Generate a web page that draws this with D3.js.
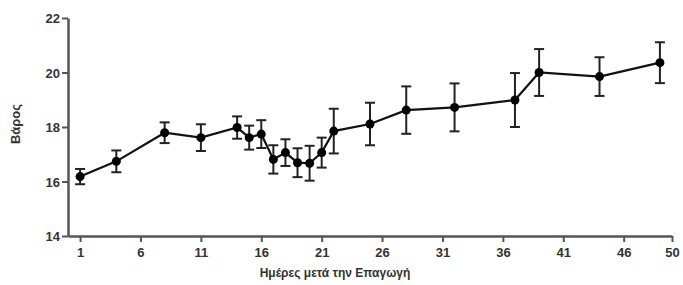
<!DOCTYPE html>
<html>
<head>
<meta charset="utf-8">
<script src="https://cdn.jsdelivr.net/npm/d3@7"></script>
<style>
  body { margin: 0; background: #fff; }
  svg text { font-family: "Liberation Sans", Arial, sans-serif; font-weight: bold; fill: #333; }
</style>
</head>
<body>
<svg id="chart" width="683" height="285"></svg>
<script>
// days after induction, mean weight, error (+/-)
const days = [1, 4, 8, 11, 14, 15, 16, 17, 18, 19, 20, 21, 22, 25, 28, 32, 37, 39, 44, 49];
const weights = [16.18, 16.74, 17.79, 17.61, 17.98, 17.61, 17.74, 16.81, 17.06, 16.69, 16.67, 17.06, 17.85, 18.11, 18.62, 18.72, 18.99, 20.0, 19.85, 20.36];
const errors = [0.28, 0.4, 0.38, 0.49, 0.41, 0.44, 0.51, 0.52, 0.49, 0.53, 0.64, 0.55, 0.82, 0.78, 0.87, 0.88, 0.99, 0.86, 0.71, 0.75];
const xTicks = [1, 6, 11, 16, 21, 26, 31, 36, 41, 46, 50];
const yTicks = [14, 16, 18, 20, 22];

let data = days.map((d, i) => ({ day: d, w: weights[i], e: errors[i] }));

let svg = d3.select("#chart");

let xScale = d3.scaleLinear().domain([0, 50]).range([68, 672]);
let yScale = d3.scaleLinear().domain([14, 22]).range([236, 18]);

// X axis
let xAxis = svg.append("g")
    .attr("transform", "translate(0, 236)")
    .call(d3.axisBottom(xScale).tickValues(xTicks).tickSize(6).tickSizeOuter(0).tickPadding(6));

// Y axis
let yAxis = svg.append("g")
    .attr("transform", "translate(68, 0)")
    .call(d3.axisLeft(yScale).tickValues(yTicks).tickSize(6).tickSizeOuter(0).tickPadding(2));

[xAxis, yAxis].forEach(ax => {
    ax.select(".domain").attr("stroke", "#555").attr("stroke-width", 2.5);
    ax.selectAll(".tick line").attr("stroke", "#555").attr("stroke-width", 2);
    ax.selectAll(".tick text")
        .style("font-size", "13px")
        .style("font-family", "'Liberation Sans', Arial, sans-serif")
        .style("font-weight", "bold")
        .attr("fill", "#333");
});
yAxis.selectAll(".tick text").attr("dy", "0.36em");

// Error bars
let bars = svg.append("g").attr("stroke", "#222").attr("stroke-width", 2);
data.forEach(d => {
    let x = xScale(d.day);
    bars.append("line")
        .attr("x1", x).attr("x2", x)
        .attr("y1", yScale(d.w + d.e)).attr("y2", yScale(d.w - d.e));
    bars.append("line")
        .attr("x1", x - 5).attr("x2", x + 5)
        .attr("y1", yScale(d.w + d.e)).attr("y2", yScale(d.w + d.e));
    bars.append("line")
        .attr("x1", x - 5).attr("x2", x + 5)
        .attr("y1", yScale(d.w - d.e)).attr("y2", yScale(d.w - d.e));
});

// Line
let line = d3.line()
    .x(d => xScale(d.day))
    .y(d => yScale(d.w));

svg.append("path")
    .datum(data)
    .attr("fill", "none")
    .attr("stroke", "#111")
    .attr("stroke-width", 2.2)
    .attr("d", line);

// Points
svg.append("g").selectAll("circle")
    .data(data)
    .enter()
    .append("circle")
    .attr("cx", d => xScale(d.day))
    .attr("cy", d => yScale(d.w))
    .attr("r", 4.5)
    .attr("fill", "#000");

// Axis titles
svg.append("text")
    .attr("x", 335)
    .attr("y", 277)
    .attr("text-anchor", "middle")
    .style("font-size", "12px")
    .text("Ημέρες μετά την Επαγωγή");

svg.append("text")
    .attr("transform", "translate(20, 124) rotate(-90)")
    .attr("text-anchor", "middle")
    .style("font-size", "13px")
    .text("Βάρος");
</script>
</body>
</html>
